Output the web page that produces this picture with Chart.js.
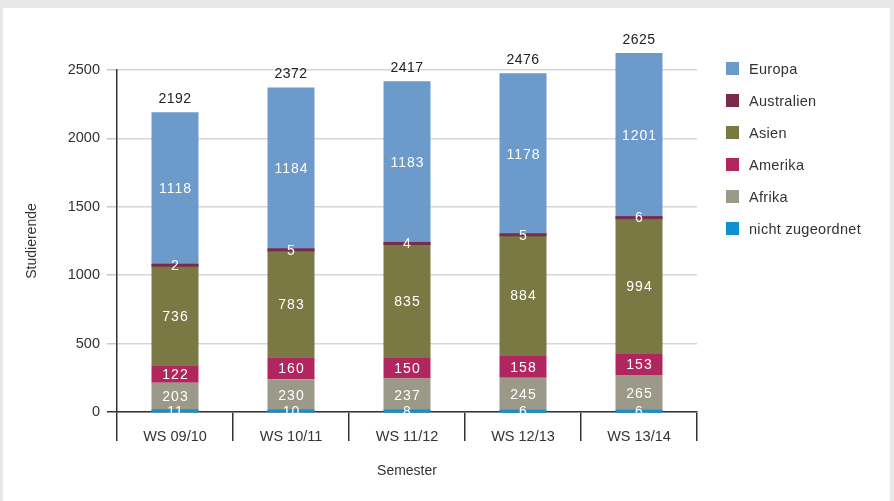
<!DOCTYPE html>
<html>
<head>
<meta charset="utf-8">
<script src="https://cdn.jsdelivr.net/npm/chart.js@4.4.0/dist/chart.umd.min.js"></script>
<style>
  html, body { margin: 0; padding: 0; }
  body { width: 894px; height: 501px; background: #e8e9e7; position: relative; overflow: hidden; font-family: "Liberation Sans", Arial, sans-serif; }
  #panel { position: absolute; left: 3px; top: 8px; width: 887px; height: 493px; background: #ffffff; }
  #wrap { position: absolute; left: 0; top: 0; width: 894px; height: 501px; }
  #legend { position: absolute; left: 726px; top: 61px; }
  .item { height: 32px; display: flex; align-items: flex-start; font-size: 14.5px; color: #333; letter-spacing: 0.3px; }
  .box { width: 13px; height: 13px; margin-right: 10px; margin-top: 1px; }
</style>
</head>
<body>
<div id="panel"></div>
<div id="wrap"><canvas id="myChart" width="894" height="501"></canvas></div>
<div id="legend"></div>
<script>
document.addEventListener('DOMContentLoaded', function() {

    // data
    const semesters = ["WS 09/10", "WS 10/11", "WS 11/12", "WS 12/13", "WS 13/14"];
    const nichtZugeordnet = [11, 10, 8, 6, 6];
    const afrika = [203, 230, 237, 245, 265];
    const amerika = [122, 160, 150, 158, 153];
    const asien = [736, 783, 835, 884, 994];
    const australien = [2, 5, 4, 5, 6];
    const europa = [1118, 1184, 1183, 1178, 1201];
    const yTicks = [0, 500, 1000, 1500, 2000, 2500];

    const series = [
        { label: "nicht zugeordnet", data: nichtZugeordnet, color: "#1190d0" },
        { label: "Afrika", data: afrika, color: "#9b9987" },
        { label: "Amerika", data: amerika, color: "#b1265f" },
        { label: "Asien", data: asien, color: "#7b7943" },
        { label: "Australien", data: australien, color: "#7b2a4c" },
        { label: "Europa", data: europa, color: "#6c9aca" },
    ];

    const ctx = document.getElementById("myChart").getContext("2d");

    // thin segments get a min thickness, then white numbers + totals
    const labelPlugin = {
        id: "segLabels",
        afterDatasetsDraw(chart) {
            const c = chart.ctx;
            c.save();
            chart.data.datasets.forEach((ds, i) => {
                const meta = chart.getDatasetMeta(i);
                meta.data.forEach(bar => {
                    const h = Math.abs(bar.base - bar.y);
                    if (h < 3) {
                        const mid = (bar.y + bar.base) / 2;
                        c.fillStyle = ds.backgroundColor;
                        c.fillRect(bar.x - bar.width / 2, mid - 1.5, bar.width, 3);
                    }
                });
            });
            c.textAlign = "center";
            c.textBaseline = "middle";
            c.font = "14px 'Liberation Sans', Arial, sans-serif";
            c.letterSpacing = "1px";
            chart.data.datasets.forEach((ds, i) => {
                const meta = chart.getDatasetMeta(i);
                meta.data.forEach((bar, j) => {
                    const mid = (bar.y + bar.base) / 2;
                    c.fillStyle = "#ffffff";
                    c.fillText(String(ds.data[j]), bar.x + 0.5, mid + 1);
                });
            });
            const last = chart.getDatasetMeta(chart.data.datasets.length - 1);
            c.fillStyle = "#222222";
            c.letterSpacing = "0.5px";
            last.data.forEach((bar, j) => {
                let total = 0;
                chart.data.datasets.forEach(ds => { total += ds.data[j]; });
                c.fillText(String(total), bar.x, bar.y - 13);
            });
            c.restore();
        }
    };

    const chart = new Chart(ctx, {
        type: "bar",
        data: {
            labels: semesters,
            datasets: series.map(s => ({
                label: s.label,
                data: s.data,
                backgroundColor: s.color,
                borderWidth: 0,
                categoryPercentage: 1,
                barPercentage: 0.405,
                clip: false,
            })),
        },
        options: {
            responsive: false,
            animation: false,
            layout: { padding: { left: 0, right: 197, top: 70, bottom: 0 } },
            plugins: {
                legend: { display: false },
                tooltip: { enabled: false },
            },
            scales: {
                x: {
                    stacked: true,
                    grid: {
                        offset: true,
                        drawOnChartArea: false,
                        color: "#333333",
                        tickLength: 29,
                        lineWidth: 1.5,
                    },
                    border: { color: "#333333", width: 1.5 },
                    ticks: {
                        color: "#333333",
                        padding: -13,
                        font: { size: 14.5, family: "'Liberation Sans', Arial, sans-serif" },
                        maxRotation: 0,
                    },
                    title: {
                        display: true,
                        text: "Semester",
                        color: "#333333",
                        font: { size: 14, family: "'Liberation Sans', Arial, sans-serif" },
                        padding: { top: 4, bottom: 21 },
                    },
                    afterFit(scale) { scale.height = 89; },
                },
                y: {
                    stacked: true,
                    min: 0,
                    max: 2500,
                    afterBuildTicks(scale) {
                        scale.ticks = yTicks.map(v => ({ value: v }));
                    },
                    grid: {
                        color: "#d6d6d6",
                        tickColor: c => (c.tick && c.tick.value === 0 ? "#333333" : "#c8c8c8"),
                        tickLength: 10,
                        lineWidth: 1.5,
                    },
                    border: { color: "#333333", width: 1.5 },
                    ticks: {
                        color: "#333333",
                        padding: 7,
                        font: { size: 14.5, family: "'Liberation Sans', Arial, sans-serif" },
                        callback: v => String(v),
                    },
                    title: {
                        display: true,
                        text: "Studierende",
                        color: "#333333",
                        font: { size: 14, family: "'Liberation Sans', Arial, sans-serif" },
                        padding: { top: 24 },
                    },
                    afterFit(scale) { scale.width = 117; },
                },
            },
        },
        plugins: [labelPlugin],
    });

    // legend, top entry = top of the stack
    const legend = document.getElementById("legend");
    series.slice().reverse().forEach(s => {
        const row = document.createElement("div");
        row.className = "item";
        const box = document.createElement("span");
        box.className = "box";
        box.style.background = s.color;
        row.appendChild(box);
        row.appendChild(document.createTextNode(s.label));
        legend.appendChild(row);
    });
});
</script>
</body>
</html>
